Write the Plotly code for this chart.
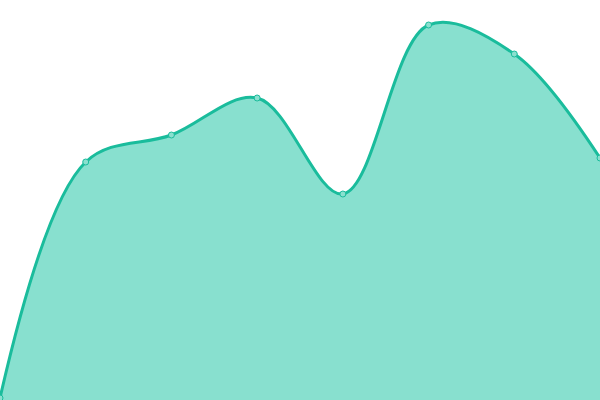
import plotly.graph_objects as go

# Data for the chart
x_values = [0, 1, 2, 3, 4, 5, 6, 7]
y_values = [2, 238, 265, 302, 206, 375, 346, 242]

fig = go.Figure(data=[go.Scatter(
    x=x_values, y=y_values, mode='lines+markers', fill='tozeroy',
    fillcolor='#88e0cf',
    line=dict(color='#1abc9c', width=3, shape='spline', smoothing=1),
    marker=dict(size=6, color='#8ae0cf', line=dict(color='#1abc9c', width=1))
)])

fig.update_layout(
    width=600, height=400,
    margin=dict(t=0, b=0, l=0, r=0),
    showlegend=False,
    plot_bgcolor='white', paper_bgcolor='white',
    xaxis=dict(visible=False, range=[0, 7]),
    yaxis=dict(visible=False, range=[0, 400])
)

# drop the default page margin so the chart sits flush in the window
fig.write_html("out.html", config={'displayModeBar': False},
               post_script="document.body.style.margin='0';document.body.style.overflow='hidden';")
